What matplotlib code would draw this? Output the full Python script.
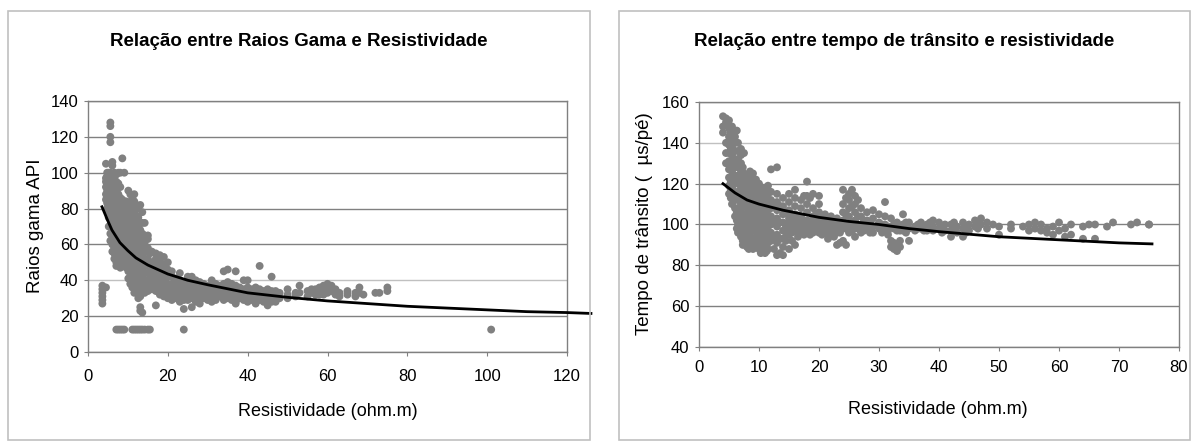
import matplotlib.pyplot as plt
from matplotlib.patches import Rectangle

plt.rcParams['font.family'] = ['Liberation Sans', 'DejaVu Sans']

# --- Raios gama x resistividade (each resistivity with the readings above it)
gama_res = [3.6, 4.5, 4.8, 5.2, 5.6, 6.1, 6.6, 7.1, 7.6, 8.1, 8.6, 9.1, 9.6,
            10.1, 10.6, 11.1, 11.6, 12.1, 12.6, 13.1, 13.6, 14.2, 15, 15.5,
            16, 17, 18, 19, 20, 21, 22, 23, 24, 25, 26, 27, 28, 29, 30, 31,
            32, 33, 34, 35, 36, 37, 38, 39, 40, 41, 42, 43, 44, 45, 46, 47,
            48, 50, 52, 53, 55, 56, 57, 58, 59, 60, 61, 62, 63, 65, 67, 68,
            69, 72, 73, 75, 101]
gama_api = [
    [27, 29, 31, 33, 35, 37],
    [36, 105, 97, 95, 92, 88, 85],
    [98, 94, 90, 86, 83, 80, 96, 100],
    [100, 97, 93, 89, 85, 82, 78, 75, 70],
    [128, 126, 120, 117, 100, 95, 90, 86, 82, 78, 74, 70, 66, 62],
    [106, 104, 98, 94, 90, 85, 80, 76, 72, 68, 64, 60, 56],
    [100, 96, 92, 88, 84, 80, 75, 70, 66, 62, 58, 55, 52],
    [12.5, 99, 95, 90, 86, 82, 78, 74, 70, 65, 60, 56, 52, 50, 48],
    [12.5, 100, 94, 88, 84, 80, 76, 72, 68, 63, 58, 54, 50],
    [12.5, 100, 92, 86, 81, 77, 73, 69, 65, 60, 55, 50, 47],
    [12.5, 108, 85, 80, 76, 72, 68, 64, 60, 56, 52, 48],
    [12.5, 100, 83, 78, 74, 70, 66, 62, 58, 54, 50],
    [84, 80, 75, 71, 67, 63, 59, 55, 51, 47],
    [90, 82, 77, 73, 69, 65, 61, 57, 53, 49, 45, 41],
    [88, 83, 78, 74, 70, 66, 62, 58, 54, 50, 46, 42, 38],
    [12.5, 86, 80, 76, 72, 68, 64, 60, 56, 52, 48, 44, 40, 36],
    [12.5, 88, 84, 78, 73, 69, 65, 61, 57, 53, 49, 45, 41, 37, 33],
    [12.5, 82, 76, 71, 67, 63, 59, 55, 50, 46, 42, 38, 34],
    [12.5, 80, 75, 70, 66, 62, 58, 54, 49, 45, 41, 37, 33, 30],
    [12.5, 82, 72, 68, 64, 60, 56, 52, 47, 43, 39, 35, 31, 25, 23],
    [12.5, 78, 72, 66, 62, 58, 54, 50, 46, 42, 38, 34, 22],
    [12.5, 72, 65, 60, 56, 52, 48, 44, 40, 36, 33],
    [12.5, 65, 63, 58, 52, 48, 44, 40, 36, 34],
    [12.5, 55, 47, 41, 37],
    [56, 50, 46, 42, 38, 35],
    [55, 52, 48, 44, 40, 36, 34, 26],
    [54, 50, 46, 42, 38, 35, 32],
    [53, 49, 45, 41, 37, 34, 31],
    [50, 46, 42, 38, 35, 32, 30],
    [45, 42, 38, 35, 32, 29],
    [41, 38, 35, 32, 30],
    [44, 40, 36, 33, 30, 28],
    [12.5, 39, 35, 32, 29, 24],
    [42, 38, 35, 32, 29],
    [42, 39, 36, 33, 30, 25],
    [40, 37, 34, 31, 28],
    [39, 36, 33, 30, 27],
    [38, 35, 32, 30],
    [37, 34, 31, 29],
    [40, 36, 33, 30, 28],
    [38, 35, 32, 29],
    [37, 34, 31],
    [45, 38, 35, 32, 29],
    [46, 39, 36, 33, 30],
    [38, 35, 32, 29],
    [45, 37, 34, 31, 28, 27],
    [36, 33, 30],
    [40, 35, 32, 29],
    [40, 36, 33, 30, 28],
    [35, 32, 29],
    [36, 33, 30, 27],
    [48, 35, 32, 29],
    [34, 31, 28],
    [35, 32, 29, 26],
    [42, 34, 31, 28],
    [34, 31, 28],
    [33, 30],
    [35, 32, 30],
    [33, 31],
    [37, 33],
    [34, 31],
    [33, 35],
    [32, 35],
    [34, 36, 32],
    [37, 34, 32],
    [38, 35, 33],
    [37, 34],
    [35, 32],
    [33, 31],
    [34, 32],
    [33, 31],
    [36, 33],
    [32],
    [33],
    [33],
    [34, 36],
    [12.5],
]
gama_trend_res = [3.5, 5, 6, 8, 10, 12, 15, 20, 25, 30, 40, 50, 60, 70, 80,
                  90, 100, 110, 120, 126]
gama_trend_api = [81, 73, 68, 61, 56.5, 52.5, 48.5, 43.5, 40, 37.5, 33, 30.5,
                  28.5, 27, 25.5, 24.5, 23.5, 22.5, 22, 21.5]

# --- Tempo de transito x resistividade
dt_res = [4, 4.5, 5, 5.5, 6, 6.5, 7, 7.5, 8, 8.5, 9, 9.5, 10, 10.5, 11, 11.5,
          12, 13, 14, 15, 16, 17, 18, 19, 20, 21, 22, 23, 24, 25, 26, 27, 28,
          29, 30, 31, 32, 33, 34, 35, 36, 37, 38, 39, 40, 41, 42, 43, 44, 45,
          46, 47, 48, 49, 50, 52, 54, 55, 56, 57, 58, 59, 60, 61, 62, 64, 65,
          66, 68, 69, 72, 73, 75,
          5.3, 6.3, 7.3, 8.3, 9.3, 10.3, 11.3, 12.5, 13.5, 14.5, 15.5, 16.5,
          17.5, 18.5, 19.5, 20.5, 21.5, 22.5, 23.5, 24.5, 25.5, 26.5, 27.5,
          28.5, 30.5, 31.5, 32.5, 33.5, 34.5, 36.5, 37.5, 38.5, 40.5, 42.5,
          44.5, 46.5]
dt_time = [
    [153, 148, 145],
    [152, 150, 140, 135, 130],
    [151, 147, 143, 139, 135, 131, 127, 123, 119, 115],
    [148, 142, 138, 134, 130, 126, 122, 118, 114, 110],
    [143, 140, 136, 132, 128, 124, 120, 116, 112, 108, 104],
    [140, 136, 132, 128, 124, 120, 116, 112, 108, 104, 100, 96],
    [137, 134, 130, 126, 122, 118, 114, 110, 106, 102, 98, 94],
    [135, 125, 121, 117, 113, 109, 105, 101, 97, 93],
    [124, 120, 116, 112, 108, 104, 100, 96, 92, 89],
    [126, 122, 118, 114, 110, 106, 102, 98, 94, 90],
    [125, 121, 117, 113, 109, 105, 101, 97, 93, 88],
    [122, 118, 114, 110, 106, 102, 98, 94, 90],
    [120, 116, 112, 108, 104, 100, 96, 92, 88],
    [118, 114, 110, 106, 102, 98, 94, 90, 87],
    [117, 113, 109, 105, 101, 97, 93, 89, 86],
    [119, 115, 111, 107, 103, 99, 95, 91, 88],
    [127, 116, 112, 108, 104, 100, 96, 92],
    [128, 115, 111, 107, 103, 99, 95, 91, 85],
    [113, 109, 105, 101, 97, 93, 89, 85],
    [115, 111, 107, 103, 99, 95, 88],
    [117, 113, 109, 105, 101, 97, 90],
    [112, 108, 104, 100, 96],
    [121, 114, 110, 106, 102, 98],
    [115, 108, 104, 100, 96],
    [114, 110, 106, 102, 98, 96],
    [105, 101, 97],
    [104, 100, 96],
    [103, 99, 96, 90],
    [117, 110, 106, 102, 98, 92],
    [115, 112, 108, 104, 100, 96],
    [114, 110, 106, 102, 98, 94],
    [108, 104, 100, 96],
    [106, 102, 98],
    [107, 103, 99, 96],
    [105, 101, 98],
    [111, 104, 100, 97],
    [103, 99, 92, 89],
    [101, 97, 90, 87],
    [105, 100, 97],
    [101, 98, 92],
    [99, 97],
    [101, 98],
    [100, 97],
    [102, 99, 97],
    [101, 98],
    [100, 97],
    [100, 97, 94],
    [99, 96],
    [101, 98, 94],
    [100, 97],
    [102, 99],
    [103, 100],
    [101, 98],
    [100],
    [99, 95],
    [98, 100],
    [99],
    [100, 97],
    [101, 98],
    [100, 97],
    [98, 96],
    [99, 95],
    [101, 97],
    [98, 94],
    [100, 95],
    [99, 93],
    [100],
    [100, 93],
    [99],
    [101],
    [100],
    [101],
    [100, 100],
    [145, 137, 129, 121, 117, 113],
    [146, 130, 122, 114, 106, 102, 98],
    [128, 120, 112, 104, 96, 92, 90],
    [118, 110, 102, 95, 91, 88],
    [115, 107, 99, 91, 89],
    [113, 105, 97, 89, 86],
    [111, 103, 95, 87],
    [110, 102, 94, 88],
    [109, 101, 93, 86],
    [106, 99, 92, 100, 96],
    [104, 98, 100, 96, 92],
    [103, 99, 96, 94],
    [114, 102, 99, 97, 95],
    [113, 101, 99, 97, 95],
    [105, 101, 99, 97],
    [103, 99, 97, 95],
    [102, 99, 97, 95, 93],
    [101, 99, 97, 94],
    [100, 98, 96, 91],
    [113, 105, 100, 98, 90],
    [117, 109, 101, 99, 97],
    [112, 104, 100, 98],
    [102, 99, 97],
    [101, 99, 97, 96],
    [100, 98, 96, 98],
    [99, 97, 95],
    [100, 98, 91, 88],
    [99, 97, 89, 92],
    [101, 99, 96],
    [100, 98],
    [99, 97],
    [101, 98],
    [99, 96],
    [101, 98],
    [99, 96],
    [100, 98],
]
dt_trend_res = [4, 6, 8, 10, 14, 20, 25, 30, 35, 40, 50, 60, 70, 75.5]
dt_trend_time = [120, 115.5, 112, 110, 107, 103.5, 101.5, 100, 98, 96.5, 94,
                 92.5, 91, 90.5]


def flatten(xs, groups):
    px, py = [], []
    for x, ys in zip(xs, groups):
        px += [x] * len(ys)
        py += ys
    return px, py


W, H = 1194, 445
fig = plt.figure(figsize=(W / 100, H / 100), dpi=100)

# chart frames
for x0, x1 in [(8, 590), (619, 1190)]:
    fig.patches.append(Rectangle((x0 / W, 1 - 440 / H), (x1 - x0) / W, 429 / H,
                                 transform=fig.transFigure, fill=False,
                                 edgecolor='#c0c0c0', lw=1.2))


def style(ax, xlim, ylim, xt, yt, light, xpad):
    ax.set_xlim(*xlim)
    ax.set_ylim(*ylim)
    ax.set_xticks(xt)
    ax.set_yticks(yt)
    for y in yt:
        ax.axhline(y, color='#c0c0c0' if y == light else '#808080', lw=1, zorder=0)
    for s in ax.spines.values():
        s.set_color('#808080')
        s.set_linewidth(1)
    ax.tick_params(direction='out', length=3, color='#808080', labelsize=12,
                   labelcolor='black')
    ax.tick_params(axis='x', pad=xpad)
    ax.tick_params(axis='y', pad=4)


# left panel
ax1 = fig.add_axes([88 / W, 1 - 352 / H, (567 - 88) / W, (352 - 101) / H])
style(ax1, (0, 120), (0, 140), range(0, 121, 20), range(0, 141, 20), 40, 9)
px, py = flatten(gama_res, gama_api)
ax1.scatter(px, py, s=32, color='#808080', edgecolors='none', zorder=2)
ax1.plot(gama_trend_res, gama_trend_api, color='black', lw=2, zorder=3,
         clip_on=False)
fig.text(299 / W, 1 - 42 / H, 'Relação entre Raios Gama e Resistividade',
         ha='center', va='center', fontsize=13.5, fontweight='bold')
fig.text(328 / W, 1 - 411 / H, 'Resistividade (ohm.m)', ha='center',
         va='center', fontsize=13)
fig.text(36 / W, 1 - 226 / H, 'Raios gama API', ha='center', va='center',
         rotation=90, fontsize=13.5)

# right panel
ax2 = fig.add_axes([699 / W, 1 - 347 / H, (1179 - 699) / W, (347 - 102) / H])
style(ax2, (0, 80), (40, 160), range(0, 81, 10), range(40, 161, 20), 140, 6)
px, py = flatten(dt_res, dt_time)
ax2.scatter(px, py, s=32, color='#808080', edgecolors='none', zorder=2)
ax2.plot(dt_trend_res, dt_trend_time, color='black', lw=2, zorder=3)
fig.text(904 / W, 1 - 42 / H, 'Relação entre tempo de trânsito e resistividade',
         ha='center', va='center', fontsize=13.5, fontweight='bold')
fig.text(938 / W, 1 - 410 / H, 'Resistividade (ohm.m)', ha='center',
         va='center', fontsize=13)
fig.text(645 / W, 1 - 224 / H, 'Tempo de trânsito (  µs/pé)', ha='center',
         va='center', rotation=90, fontsize=13.5)

fig.savefig('out.png', dpi=100)
